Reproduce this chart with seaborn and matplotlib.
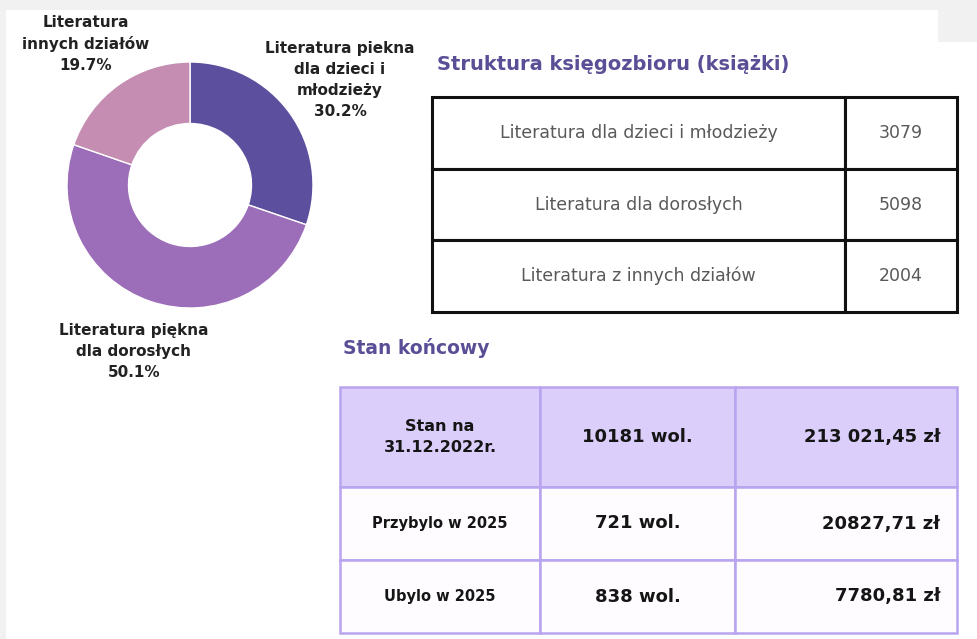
import seaborn as sns
import matplotlib.pyplot as plt
from matplotlib.patches import Rectangle

sns.set_theme(style="white")
plt.rcParams['font.family'] = ['DejaVu Sans']

# dane
kategorie = ['Literatura dla dzieci i młodzieży', 'Literatura dla dorosłych', 'Literatura z innych działów']
liczba_ksiazek = [3079, 5098, 2004]
etykiety_wykresu = ['Literatura piekna\ndla dzieci i\nmłodzieży', 'Literatura piękna\ndla dorosłych', 'Literatura\ninnych działów']
kolory = ['#5b4f9e', '#9c6db8', '#c48db1']

stan_wiersze = ['Stan na\n31.12.2022r.', 'Przybylo w 2025', 'Ubylo w 2025']
stan_wol = ['10181 wol.', '721 wol.', '838 wol.']
stan_zl = ['213 021,45 zł', '20827,71 zł', '7780,81 zł']

W, H = 977, 639


def px_box(x0, y0, x1, y1):
    # prostokat w pikselach (od gory) -> wspolrzedne figury
    return [x0 / W, 1 - y1 / H, (x1 - x0) / W, (y1 - y0) / H]


fig = plt.figure(figsize=(W / 100, H / 100), dpi=100)
fig.patch.set_facecolor('#f1f1f1')
fig.patches.append(Rectangle((6 / W, 0), 932 / W, 629 / H, transform=fig.transFigure,
                             facecolor='white', edgecolor='none', zorder=-5))
fig.patches.append(Rectangle((938 / W, 0), 39 / W, 597 / H, transform=fig.transFigure,
                             facecolor='white', edgecolor='none', zorder=-5))

# wykres pierscieniowy
cx, cy, r = 190, 185, 123
ax = fig.add_axes(px_box(cx - 2.5 * r / 2, cy - 2.5 * r / 2, cx + 2.5 * r / 2, cy + 2.5 * r / 2))
ax.pie(liczba_ksiazek, colors=kolory, startangle=90, counterclock=False,
       wedgeprops=dict(width=0.5, edgecolor='white', linewidth=1))
ax.set_xlim(-1.25, 1.25)
ax.set_ylim(-1.25, 1.25)
ax.set_facecolor('none')

suma = sum(liczba_ksiazek)
pozycje = [(340, 80), (134, 351), (86, 44)]
for etyk, v, (px, py) in zip(etykiety_wykresu, liczba_ksiazek, pozycje):
    ax.text((px - cx) / r, (cy - py) / r, f"{etyk}\n{v / suma * 100:.1f}%",
            ha='center', va='center', multialignment='center', fontsize=11,
            fontweight='bold', color='#222222', linespacing=1.5, clip_on=False)

# tabela struktury
fig.text(437 / W, 1 - 65 / H, 'Struktura księgozbioru (książki)', ha='left', va='center',
         fontsize=14, fontweight='bold', color='#5a4f96')
ax1 = fig.add_axes(px_box(432, 97, 957, 312))
ax1.axis('off')
tbl = ax1.table(cellText=[[k, str(v)] for k, v in zip(kategorie, liczba_ksiazek)],
                colWidths=[413 / 525, 112 / 525], cellLoc='center', bbox=[0, 0, 1, 1])
tbl.auto_set_font_size(False)
tbl.set_fontsize(12.5)
for (i, j), cell in tbl.get_celld().items():
    cell.set_edgecolor('#111111')
    cell.set_linewidth(2.2)
    cell.get_text().set_color('#595959')

# tabela stanu koncowego
fig.text(343 / W, 1 - 348 / H, 'Stan końcowy', ha='left', va='center',
         fontsize=13.5, fontweight='bold', color='#5a4f96')
ax2 = fig.add_axes(px_box(340, 387, 957, 633))
ax2.axis('off')
tbl2 = ax2.table(cellText=[list(t) for t in zip(stan_wiersze, stan_wol, stan_zl)],
                 colWidths=[200 / 617, 195 / 617, 222 / 617], cellLoc='center', bbox=[0, 0, 1, 1])
tbl2.auto_set_font_size(False)
wysokosci = [100, 73, 73]
for (i, j), cell in tbl2.get_celld().items():
    cell.set_height(wysokosci[i] / 246)
    cell.set_edgecolor('#b8a4ef')
    cell.set_linewidth(1.8)
    cell.set_facecolor('#dccefb' if i == 0 else '#fefcff')
    t = cell.get_text()
    t.set_fontweight('bold')
    t.set_color('#151515')
    if j == 0:
        t.set_fontsize(11.5 if i == 0 else 10.5)
        t.set_multialignment('center')
        t.set_linespacing(1.45)
    elif j == 1:
        t.set_fontsize(13)
    else:
        t.set_fontsize(13)
        t.set_horizontalalignment('right')
        cell.PAD = 0.075

fig.savefig('out.png', dpi=100, facecolor=fig.get_facecolor())
